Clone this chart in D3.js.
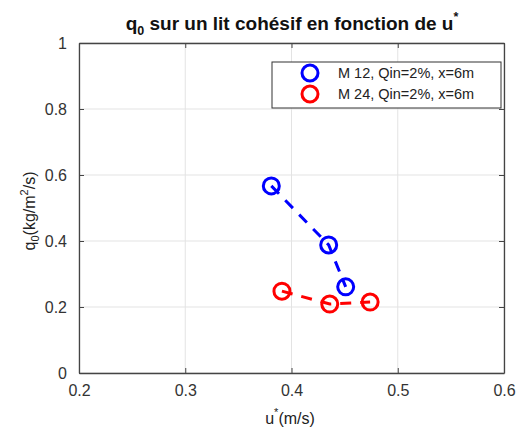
<!DOCTYPE html>
<html><head><meta charset="utf-8">
<script src="https://cdn.jsdelivr.net/npm/d3@7"></script>
<style>body{margin:0;background:#fff;} text{font-family:"Liberation Sans",Arial,sans-serif;}</style>
</head><body>
<svg id="c" width="516" height="430"></svg>
<script>
const seriesNames = ["M 12, Qin=2%, x=6m", "M 24, Qin=2%, x=6m"];
const seriesColors = ["#0000ff", "#ff0000"];
const m12U = [0.381, 0.435, 0.451];
const m12Q = [0.567, 0.388, 0.261];
const m24U = [0.391, 0.436, 0.474];
const m24Q = [0.248, 0.209, 0.215];
const xTicks = [0.2, 0.3, 0.4, 0.5, 0.6];
const yTicks = [0, 0.2, 0.4, 0.6, 0.8, 1];

const svg = d3.select("#c");
const L = 79, R = 504, T = 43, B = 373;
const x = d3.scaleLinear().domain([0.2, 0.6]).range([L, R]);
const y = d3.scaleLinear().domain([0, 1]).range([B, T]);

// grid
svg.append("g").selectAll("line").data(xTicks).join("line")
  .attr("x1", d => x(d)).attr("x2", d => x(d)).attr("y1", T).attr("y2", B)
  .attr("stroke", "#e3e3e3").attr("stroke-width", 1);
svg.append("g").selectAll("line").data(yTicks).join("line")
  .attr("y1", d => y(d)).attr("y2", d => y(d)).attr("x1", L).attr("x2", R)
  .attr("stroke", "#e3e3e3").attr("stroke-width", 1);

// axes
const xa = svg.append("g").attr("transform", `translate(0,${B})`)
  .call(d3.axisBottom(x).tickValues(xTicks).tickSizeInner(-5).tickSizeOuter(0).tickPadding(12).tickFormat(d3.format("")));
const xt = svg.append("g").attr("transform", `translate(0,${T})`)
  .call(d3.axisTop(x).tickValues(xTicks).tickSizeInner(-5).tickSizeOuter(0).tickFormat(""));
const ya = svg.append("g").attr("transform", `translate(${L},0)`)
  .call(d3.axisLeft(y).tickValues(yTicks).tickSizeInner(-5).tickSizeOuter(0).tickPadding(12).tickFormat(d3.format("")));
const yr = svg.append("g").attr("transform", `translate(${R},0)`)
  .call(d3.axisRight(y).tickValues(yTicks).tickSizeInner(-5).tickSizeOuter(0).tickFormat(""));
[xa, xt, ya, yr].forEach(g => {
  g.selectAll("path").attr("stroke", "#444").attr("stroke-width", 1.3);
  g.selectAll("line").attr("stroke", "#444");
  g.selectAll("text").attr("fill", "#333").attr("font-size", 16);
});

// series
const series = [
  {u: m12U, q: m12Q, color: seriesColors[0]},
  {u: m24U, q: m24Q, color: seriesColors[1]}
];
const line = d3.line().x(d => x(d[0])).y(d => y(d[1]));
series.forEach(s => {
  const pts = s.u.map((u, i) => [u, s.q[i]]);
  svg.append("path").attr("d", line(pts)).attr("fill", "none")
    .attr("stroke", s.color).attr("stroke-width", 3).attr("stroke-dasharray", "11,9");
  svg.append("g").selectAll("circle").data(pts).join("circle")
    .attr("cx", d => x(d[0])).attr("cy", d => y(d[1])).attr("r", 8)
    .attr("fill", "none").attr("stroke", s.color).attr("stroke-width", 3);
});

// legend
svg.append("rect").attr("x", 272).attr("y", 62).attr("width", 229).attr("height", 46)
  .attr("fill", "#fff").attr("stroke", "#333").attr("stroke-width", 1);
seriesNames.forEach((n, i) => {
  const ly = 73 + i * 21;
  svg.append("circle").attr("cx", 310).attr("cy", ly).attr("r", 8)
    .attr("fill", "none").attr("stroke", seriesColors[i]).attr("stroke-width", 3);
  svg.append("text").attr("x", 338).attr("y", ly + 5).attr("font-size", 14.5).attr("fill", "#222").text(n);
});

// title
const tt = svg.append("text").attr("x", 292).attr("y", 30).attr("text-anchor", "middle")
  .attr("font-size", 19).attr("font-weight", "bold").attr("fill", "#111");
tt.append("tspan").text("q");
tt.append("tspan").attr("font-size", 12.5).attr("dy", 5).text("0");
tt.append("tspan").attr("dy", -5).text(" sur un lit cohésif en fonction de u");
tt.append("tspan").attr("font-size", 12.5).attr("dy", -9).text("*");

// x label
const xl = svg.append("text").attr("x", 290).attr("y", 424).attr("text-anchor", "middle")
  .attr("font-size", 16).attr("fill", "#222");
xl.append("tspan").text("u");
xl.append("tspan").attr("font-size", 11).attr("dy", -8).text("*");
xl.append("tspan").attr("dy", 8).text("(m/s)");

// y label
const yl = svg.append("text").attr("transform", "translate(35,211) rotate(-90)").attr("text-anchor", "middle")
  .attr("font-size", 16).attr("fill", "#222");
yl.append("tspan").text("q");
yl.append("tspan").attr("font-size", 11).attr("dy", 4).text("0");
yl.append("tspan").attr("dy", -4).text("(kg/m");
yl.append("tspan").attr("font-size", 11).attr("dy", -7).text("2");
yl.append("tspan").attr("dy", 7).text("/s)");
</script>
</body></html>
